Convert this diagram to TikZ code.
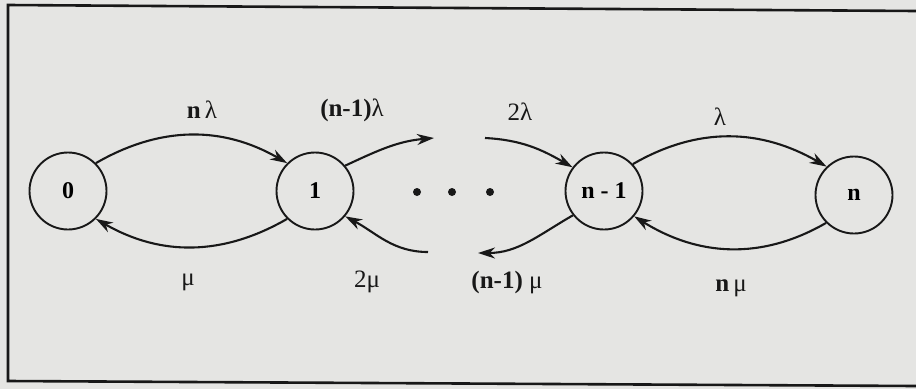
\documentclass[tikz,border=0pt]{standalone}
\usepackage{fontspec}
\setmainfont{Liberation Serif}
\usetikzlibrary{arrows.meta, positioning}

\definecolor{paper}{RGB}{229,229,227}
\definecolor{ink}{RGB}{24,24,24}

\tikzset{
  state/.style={circle, draw=ink, line width=1.9pt, minimum size=77pt, inner sep=0pt, font=\fontsize{24}{27}\selectfont\bfseries},
  trans/.style={draw=ink, line width=2.1pt, -{Stealth[length=17pt,width=11pt]}},
  rate/.style={text=ink, inner sep=0pt, font=\fontsize{25}{28}\selectfont}
}

\begin{document}
\begin{tikzpicture}[x=1pt, y=-1pt]
      \fill[paper] (0,0) rectangle (916,389);
      \useasboundingbox (0,0) rectangle (916,389);
      \draw[ink, line width=2.6pt] (916,11) -- (8,5) -- (8,381) -- (916,386);

      \node[state] (s0) at (68,191) {0};
      \node[state] (s1) at (315,191) {1};
      \node[state] (sm) at (604,191) {n - 1};
      \node[state] (sn) at (854,195) {n};

      \foreach \x in {417,452,490}
        \fill[ink] (\x,192) circle (4);

      \coordinate (up-in) at (434,138);
      \coordinate (up-out) at (485,138);
      \coordinate (lo-in) at (478,253);
      \coordinate (lo-out) at (428,252);

      \draw[trans] (s0.45) to[out=30, in=150] (s1.135);
      \draw[trans] (s1.225) to[out=210, in=-30] (s0.-45);
      \draw[trans] (s1.40) to[out=25, in=185] (up-in);
      \draw[trans] (up-out) to[out=-3, in=150] (sm.143);
      \draw[trans] (sm.218) to[out=210, in=0] (lo-in);
      \draw[trans] (lo-out) to[out=180, in=-28] (s1.-40);
      \draw[trans] (sm.43) to[out=30, in=150] (sn.134);
      \draw[trans] (sn.225) to[out=210, in=-32] (sm.-40);

      \node[rate] (r01) at (202,110) {\textbf{n}\,λ};
      \node[rate] (r10) at (188,282) {μ};
      \node[rate] (r12) at (352,110) {\textbf{(n-1)}λ};
      \node[rate] (r21) at (367,282) {2μ};
      \node[rate] (rm) at (520,112) {2λ};
      \node[rate] (rmb) at (507,282) {\textbf{(n-1)} μ};
      \node[rate] (rn) at (720,117) {λ};
      \node[rate] (rnb) at (731,288) {\textbf{n}\,μ};
\end{tikzpicture}
\end{document}
